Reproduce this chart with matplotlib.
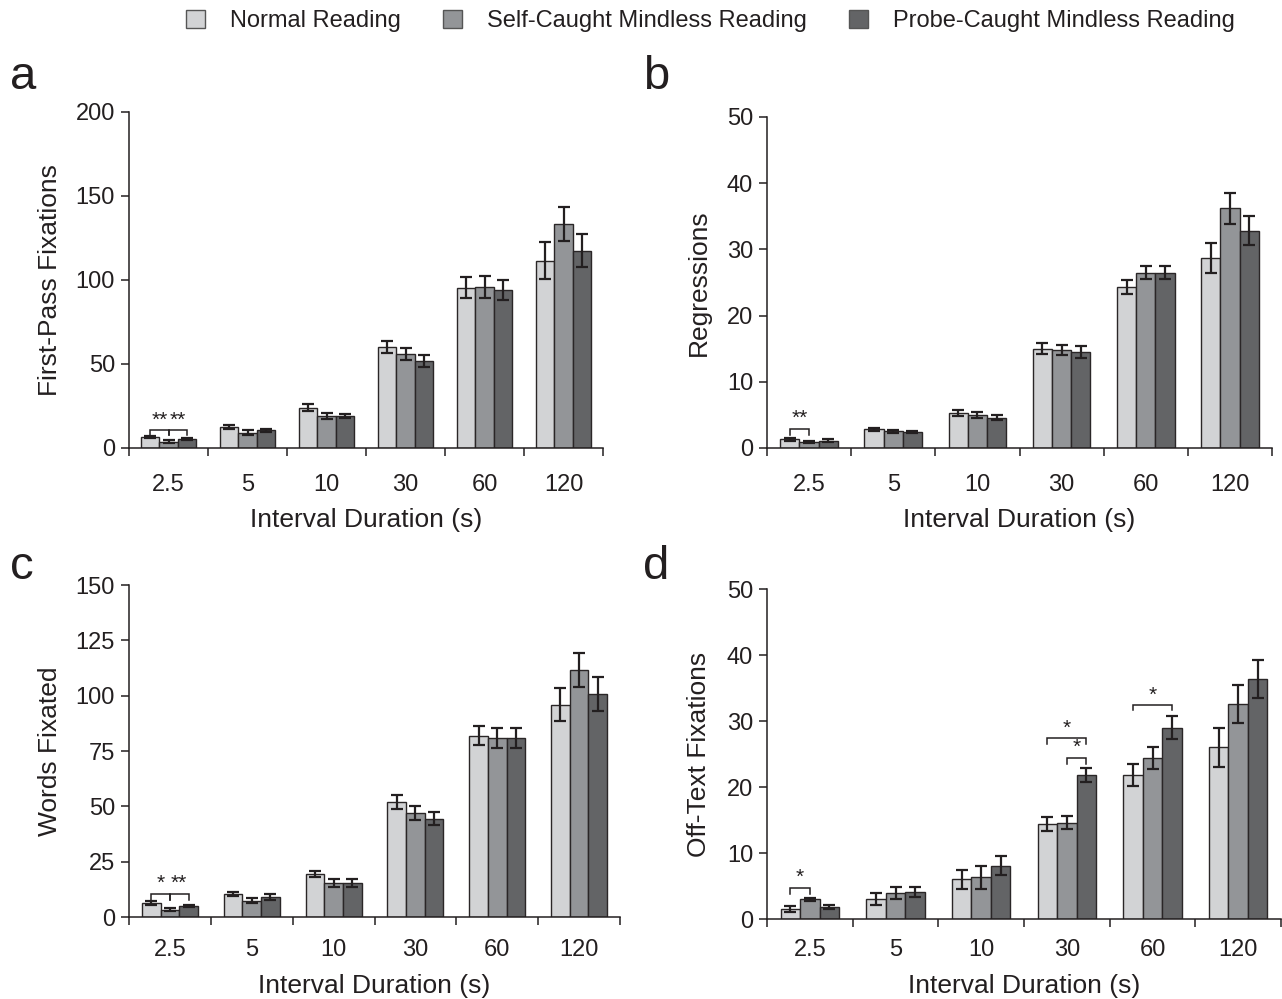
import matplotlib
matplotlib.use("Agg")
import matplotlib.pyplot as plt
import matplotlib.transforms as mtransforms
from matplotlib.patches import Patch
import numpy as np

plt.rcParams['font.family'] = ['Liberation Sans', 'DejaVu Sans']

# ---------------- data ----------------
categories = ['2.5', '5', '10', '30', '60', '120']
series_names = ['Normal Reading', 'Self-Caught Mindless Reading', 'Probe-Caught Mindless Reading']

a_normal = [6.5, 12.5, 24.0, 60.0, 95.5, 111.5]
a_normal_err = [0.6, 1.0, 2.0, 3.5, 6.0, 11.0]
a_self = [3.8, 9.0, 19.0, 56.0, 96.0, 133.5]
a_self_err = [1.0, 1.5, 1.8, 3.5, 6.5, 10.0]
a_probe = [5.3, 10.5, 19.0, 52.0, 94.0, 117.5]
a_probe_err = [0.6, 1.0, 1.3, 3.5, 6.0, 10.0]

b_normal = [1.3, 2.8, 5.3, 15.0, 24.3, 28.7]
b_normal_err = [0.25, 0.2, 0.5, 0.8, 1.1, 2.3]
b_self = [0.9, 2.5, 5.0, 14.8, 26.5, 36.2]
b_self_err = [0.2, 0.2, 0.5, 0.7, 1.0, 2.3]
b_probe = [1.1, 2.4, 4.6, 14.5, 26.5, 32.8]
b_probe_err = [0.2, 0.2, 0.4, 0.9, 1.0, 2.2]

c_normal = [6.2, 10.4, 19.5, 52.0, 82.0, 96.0]
c_normal_err = [1.0, 0.7, 1.5, 3.0, 4.5, 7.3]
c_self = [3.3, 7.3, 15.5, 47.0, 81.0, 111.6]
c_self_err = [0.8, 1.2, 1.8, 3.0, 4.5, 7.5]
c_probe = [5.0, 9.0, 15.5, 44.5, 81.0, 100.8]
c_probe_err = [0.6, 1.3, 1.8, 3.0, 4.5, 7.8]

d_normal = [1.5, 3.0, 6.0, 14.4, 21.8, 26.0]
d_normal_err = [0.4, 0.9, 1.4, 1.0, 1.7, 2.9]
d_self = [3.0, 3.9, 6.3, 14.6, 24.4, 32.6]
d_self_err = [0.2, 0.9, 1.8, 1.0, 1.6, 2.9]
d_probe = [1.8, 4.1, 8.1, 21.8, 29.0, 36.4]
d_probe_err = [0.3, 0.8, 1.4, 1.1, 1.7, 2.9]

# significance brackets: (group, bar_i, bar_j, end_y, top_y, label)
a_brackets = [(0, 0, 1, 8.0, 10.7, '**'), (0, 1, 2, 8.0, 10.7, '**')]
b_brackets = [(0, 0, 1, 2.0, 2.9, '**')]
c_brackets = [(0, 0, 1, 7.7, 10.4, '*'), (0, 1, 2, 7.7, 10.4, '**')]
d_brackets = [(0, 0, 1, 3.8, 4.7, '*'), (3, 0, 2, 26.5, 27.4, '*'),
              (3, 1, 2, 23.5, 24.4, '*'), (4, 0, 2, 31.6, 32.4, '*')]

y_labels = ['First-Pass Fixations', 'Regressions', 'Words Fixated', 'Off-Text Fixations']
y_ticks = [[0, 50, 100, 150, 200], [0, 10, 20, 30, 40, 50],
           [0, 25, 50, 75, 100, 125, 150], [0, 10, 20, 30, 40, 50]]
panel_letters = ['a', 'b', 'c', 'd']

# ---------------- style ----------------
colors = ['#d2d3d5', '#939598', '#636466']
edge = '#2a2627'
ink = '#231f20'
W, H = 1282, 999
fig = plt.figure(figsize=(W / 100, H / 100), dpi=100)

# axes boxes in pixels: left, right, bottom(y of 0), top(y of max)
boxes = [(129, 603, 448, 112), (767, 1272, 448, 117),
         (129, 620, 917, 585), (767, 1281, 919, 589)]
letter_pos = [(10, 89), (643, 89), (10, 579), (643, 579)]
ylabel_x = [62, 711, 62, 711]
tick_pad = [19, 19, 15.5, 14.5]
xlabel_pad = [8, 8, 9.5, 9.0]

panels = [
    ((a_normal, a_normal_err), (a_self, a_self_err), (a_probe, a_probe_err), a_brackets),
    ((b_normal, b_normal_err), (b_self, b_self_err), (b_probe, b_probe_err), b_brackets),
    ((c_normal, c_normal_err), (c_self, c_self_err), (c_probe, c_probe_err), c_brackets),
    ((d_normal, d_normal_err), (d_self, d_self_err), (d_probe, d_probe_err), d_brackets),
]

bw = 0.228
x = np.arange(len(categories))
offsets = [-bw, 0, bw]

for k, (s1, s2, s3, brackets) in enumerate(panels):
    l, r, b0, t = boxes[k]
    ax = fig.add_axes([l / W, 1 - b0 / H, (r - l) / W, (b0 - t) / H])
    for si, (vals, errs) in enumerate((s1, s2, s3)):
        ax.bar(x + offsets[si], vals, bw, color=colors[si], edgecolor=edge,
               linewidth=1.0, zorder=2)
        ax.errorbar(x + offsets[si], vals, yerr=errs, fmt='none', ecolor=ink,
                    elinewidth=1.6, capsize=4.2, capthick=1.6, zorder=3)
    ax.set_xlim(-0.5, len(categories) - 0.5)
    ax.set_ylim(0, y_ticks[k][-1])
    ax.set_yticks(y_ticks[k])
    ax.set_xticks(x)
    ax.set_xticklabels(categories)
    ax.set_xticks(np.arange(-0.5, len(categories)), minor=True)
    ax.tick_params(axis='x', which='major', length=0, pad=tick_pad[k], labelsize=17, colors=ink)
    ax.tick_params(axis='x', which='minor', length=6, width=1.1, direction='out', color=ink)
    ax.tick_params(axis='y', length=6, width=1.1, direction='out', labelsize=17, colors=ink, pad=4)
    for sp in ['top', 'right']:
        ax.spines[sp].set_visible(False)
    for sp in ['left', 'bottom']:
        ax.spines[sp].set_color(ink)
        ax.spines[sp].set_linewidth(1.1)
    ax.set_xlabel('Interval Duration (s)', fontsize=19, color=ink, labelpad=xlabel_pad[k])
    ax.set_ylabel(y_labels[k], fontsize=19, color=ink)
    trans = mtransforms.blended_transform_factory(fig.transFigure, ax.transAxes)
    ax.yaxis.set_label_coords(ylabel_x[k] / W, 0.5, transform=trans)
    for (g, i, j, ye, yt, lab) in brackets:
        x1 = g + offsets[i]
        x2 = g + offsets[j]
        ax.plot([x1, x1, x2, x2], [ye, yt, yt, ye], color=ink, lw=1.1, zorder=4,
                solid_joinstyle='miter')
        ax.annotate(lab, ((x1 + x2) / 2, yt), xytext=(0, 0.5), textcoords='offset points',
                    ha='center', va='bottom', fontsize=15, color=ink)
    fig.text(letter_pos[k][0] / W, 1 - letter_pos[k][1] / H, panel_letters[k],
             fontsize=34, color=ink, ha='left', va='baseline')

handles = [Patch(facecolor=c, edgecolor='#555555', linewidth=1.0) for c in colors]
fig.legend(handles, series_names, loc='upper center', bbox_to_anchor=(0.554, 1.011),
           ncol=3, frameon=False, fontsize=17, handlelength=0.8, handleheight=0.8,
           columnspacing=1.8, handletextpad=1.05, labelcolor=ink)

fig.savefig('out.png', dpi=100)
